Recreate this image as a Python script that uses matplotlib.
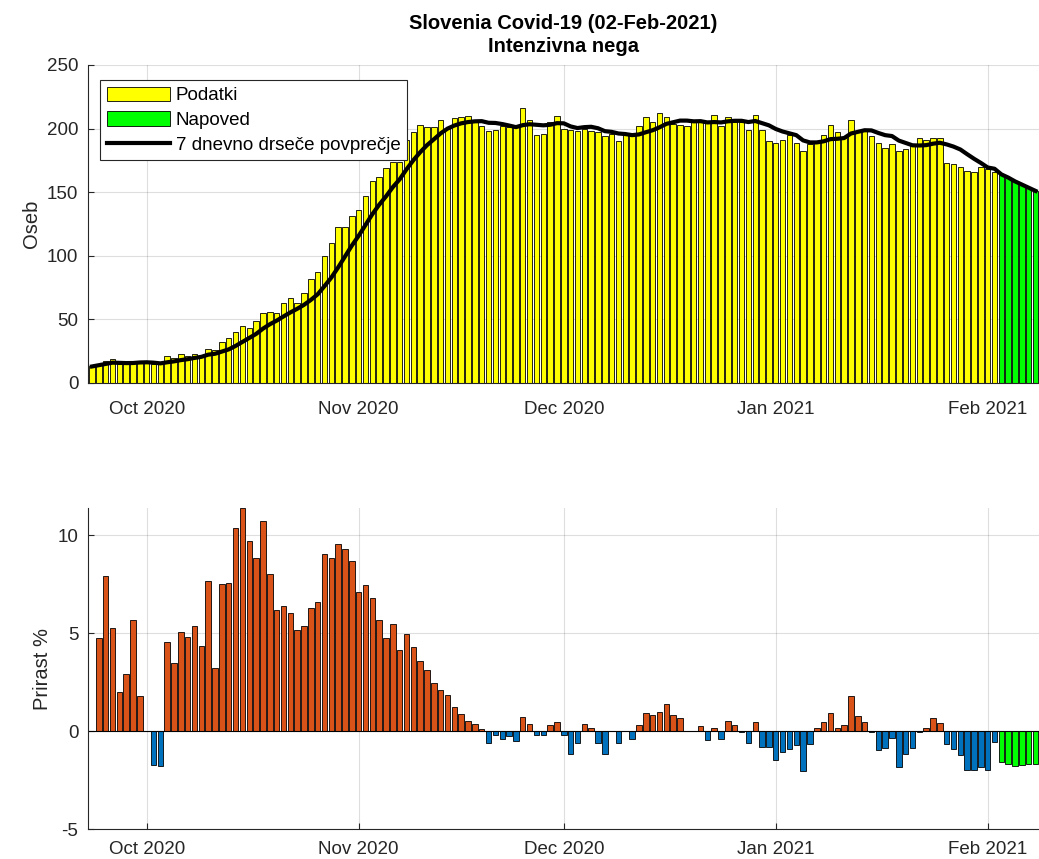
import numpy as np
import pandas as pd
import matplotlib
matplotlib.use('Agg')
import matplotlib.pyplot as plt
import matplotlib.dates as mdates
from matplotlib.patches import Patch
from matplotlib.lines import Line2D

plt.rcParams['font.family'] = ['Liberation Sans', 'DejaVu Sans']
plt.rcParams['axes.unicode_minus'] = False

# intenzivna nega - podatki od 23.9.2020 do 2.2.2021
data_start = '2020-09-23'
icu = [13, 15, 17, 19, 15, 15, 16, 16,
       16, 15, 15, 21, 20, 23, 21, 23, 21, 27, 26, 32, 35, 40, 45, 43, 49, 55,
       56, 55, 63, 67, 63, 71, 82, 87, 100, 110, 123, 123, 131,
       136, 147, 159, 162, 169, 174, 174, 191, 197, 203, 201, 201, 207, 200, 208,
       209, 210, 205, 202, 198, 199, 202, 201, 201, 216, 207, 195, 196, 205, 210,
       200, 199, 198, 200, 198, 197, 194, 196, 190, 195, 194, 202, 209, 205, 212,
       209, 204, 203, 202, 205, 206, 205, 211, 202, 209, 205, 205, 199, 211, 199, 190,
       189, 191, 195, 189, 182, 188, 190, 195, 203, 197, 193, 207, 197, 199, 194,
       189, 185, 188, 182, 184, 186, 193, 191, 193, 193, 173, 172, 170, 167, 166, 170,
       168, 166]
# napoved 3.2. - 8.2.
icu_fc = [164, 161.5, 158.5, 156, 153.5, 151]

# prirast % od 24.9.2020
growth = [4.78, 7.94, 5.29, 2.02, 2.94, 5.70, 1.82,
          0.0, -1.72, -1.80, 4.57, 3.50, 5.08, 4.83, 5.39, 4.37, 7.67, 3.25, 7.53, 7.57,
          10.4, 11.38, 9.73, 8.86, 10.75, 8.04, 6.20, 6.41, 6.03, 5.18, 5.38, 6.30, 6.58,
          9.06, 8.86, 9.54, 9.32, 8.71,
          7.09, 7.48, 6.81, 5.66, 4.74, 5.49, 4.16, 4.94, 4.3, 3.6, 3.1, 2.45, 2.09, 1.84,
          1.22, 0.87, 0.51, 0.36, 0.10, -0.61, -0.20, -0.41, -0.26, -0.48, 0.71, 0.37,
          -0.20, -0.20, 0.31, 0.46,
          -0.20, -1.17, -0.61, 0.36, 0.15, -0.61, -1.17, 0.0, -0.61, 0.0, -0.41, 0.31,
          0.92, 0.82, 0.97, 1.38, 0.82, 0.66, 0.0, 0.0, 0.26, -0.46, 0.15, -0.41, 0.51,
          0.31, -0.03, -0.61, 0.46, -0.82, -0.82,
          -1.48, -1.07, -0.92, -0.71, -2.04, -0.66, 0.15, 0.46, 0.92, 0.15, 0.31, 1.79,
          0.77, 0.46, -0.03, -0.97, -0.87, -0.36, -1.84, -1.17, -0.87, -0.02, 0.15, 0.66,
          0.41, -0.66, -0.92, -1.22, -1.99, -1.99, -1.84,
          -1.99, -0.56]
growth_fc = [-1.58, -1.68, -1.79, -1.73, -1.68, -1.68]

dates = pd.date_range(data_start, periods=len(icu))
dates_fc = pd.date_range(dates[-1] + pd.Timedelta(days=1), periods=len(icu_fc))
gdates = pd.date_range('2020-09-24', periods=len(growth))

avg = pd.Series(icu).rolling(7, min_periods=1).mean().tolist() + icu_fc
all_dates = dates.append(dates_fc)

yellow = '#FFFF00'
green = '#00FF00'
orange = '#D95319'
blue = '#0072BD'
axcol = '#262626'

fig = plt.figure(figsize=(10.39, 8.59), dpi=100)
ax1 = fig.add_axes([88/1039, 1-383/859, 951/1039, 318/859])
ax2 = fig.add_axes([88/1039, 1-829/859, 951/1039, 321/859])

ax1.bar(dates, icu, width=0.8, color=yellow, edgecolor='k', linewidth=0.6)
ax1.bar(dates_fc, icu_fc, width=0.8, color=green, edgecolor='k', linewidth=0.6)
ax1.plot(all_dates, avg, color='k', linewidth=3)

cols = [orange if v > 0 else blue for v in growth]
ax2.bar(gdates, growth, width=0.8, color=cols, edgecolor='k', linewidth=0.6)
ax2.bar(dates_fc, growth_fc, width=0.8, color=green, edgecolor='k', linewidth=0.6)
ax2.axhline(0, color='k', linewidth=0.8)

xmin = pd.Timestamp('2020-09-22 10:00')
xmax = pd.Timestamp('2021-02-08 12:00')
for ax in (ax1, ax2):
    ax.set_xlim(xmin, xmax)
    ax.xaxis.set_major_locator(mdates.MonthLocator())
    ax.xaxis.set_major_formatter(mdates.DateFormatter('%b %Y'))
    ax.grid(True, color=axcol, alpha=0.15, linewidth=0.8)
    ax.set_axisbelow(True)
    ax.tick_params(direction='in', length=4, color=axcol, labelcolor=axcol,
                   labelsize=13.5)
    ax.tick_params(axis='y', pad=7)
    ax.spines['top'].set_visible(False)
    ax.spines['right'].set_visible(False)
    for s in ('left', 'bottom'):
        ax.spines[s].set_color(axcol)
        ax.spines[s].set_linewidth(0.8)

ax1.tick_params(axis='x', pad=13)
ax2.tick_params(axis='x', pad=9)

ax1.set_ylim(0, 250)
ax1.set_yticks([0, 50, 100, 150, 200, 250])
ax1.set_ylabel('Oseb', fontsize=14.5, color=axcol)
ax1.set_title('Slovenia Covid-19 (02-Feb-2021)\nIntenzivna nega', fontsize=14.5,
              fontweight='bold', linespacing=1.3, pad=9)

ax2.set_ylim(-5, 11.4)
ax2.set_yticks([-5, 0, 5, 10])
ax2.set_ylabel('Prirast %', fontsize=14.5, color=axcol)

handles = [Patch(facecolor=yellow, edgecolor='k', linewidth=0.6),
           Patch(facecolor=green, edgecolor='k', linewidth=0.6),
           Line2D([], [], color='k', linewidth=3)]
labels = ['Podatki', 'Napoved', '7 dnevno drseče povprečje']
leg = ax1.legend(handles, labels, loc='upper left', bbox_to_anchor=(0.0126, 0.953),
                 borderaxespad=0, fontsize=13.5, fancybox=False, framealpha=1,
                 edgecolor=axcol, handlelength=3.4, handleheight=0.85,
                 labelspacing=0.35, borderpad=0.35, handletextpad=0.3)
leg.get_frame().set_linewidth(0.8)

fig.savefig('out.png', dpi=100)
